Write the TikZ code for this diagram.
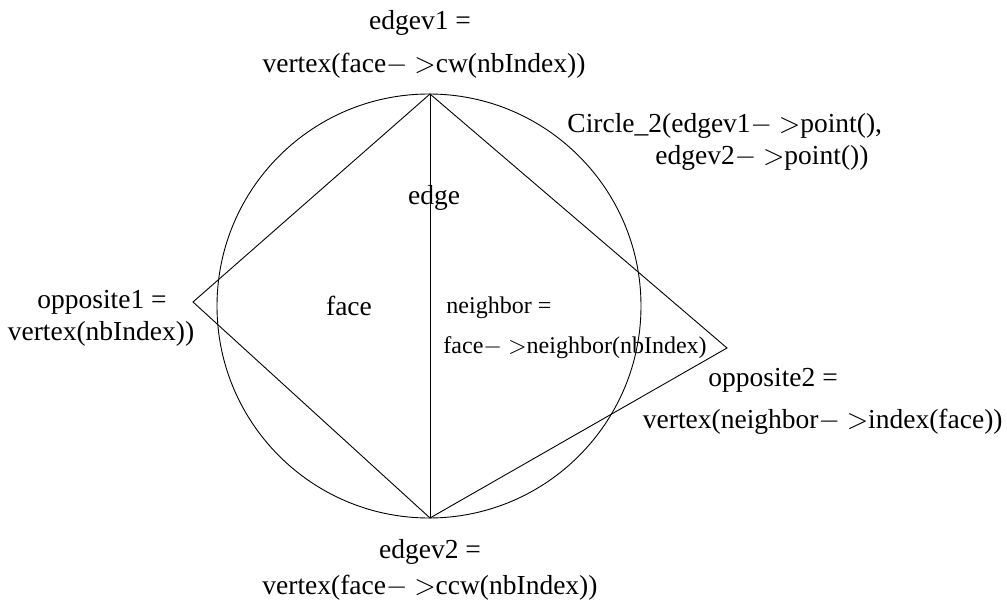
\documentclass[tikz,border=0pt]{standalone}
\usepackage{mathptmx}
\usepackage{fontspec}
\setmainfont{Liberation Serif}
\usetikzlibrary{positioning}

\begin{document}
\begin{tikzpicture}[x=1pt,y=-1pt,line width=0.9pt,
  txt/.style={inner sep=0pt,anchor=base,font=\fontsize{27.5}{32}\selectfont},
  small txt/.style={txt,font=\fontsize{24}{29}\selectfont}]
\def\ptr{$-$ $>$}
\useasboundingbox (0,0) rectangle (1007,604);
% vertices of the two faces
\coordinate (edgev1) at (430,94);
\coordinate (edgev2) at (430,518);
\coordinate (opposite1) at (193,302);
\coordinate (opposite2) at (727,348);
\coordinate (centre) at (429,306);
\draw (centre) circle[radius=212pt];
\draw (edgev1) -- (edgev2);
\draw (edgev1) -- (opposite1) -- (edgev2) -- (opposite2) -- cycle;
% labels
\node[txt] (ev1a) at (420,30) {edgev1 =};
\node[txt] (ev1b) at (424,73) {vertex(face\ptr cw(nbIndex))};
\node[txt,anchor=base west] (circa) at (567,133) {Circle\_2(edgev1\ptr point(),};
\node[txt,anchor=base west] (circb) at (655,165) {edgev2\ptr point())};
\node[txt] (edge) at (434,205) {edge};
\node[txt] (face) at (349,315) {face};
\node[txt] (opp1a) at (102,308) {opposite1 =};
\node[txt] (opp1b) at (101,340) {vertex(nbIndex))};
\node[small txt,anchor=base west] (nba) at (446,313) {neighbor =};
\node[small txt,anchor=base west] (nbb) at (443,353) {face\ptr neighbor(nbIndex)};
\node[txt,anchor=base west] (opp2a) at (708,386) {opposite2 =};
\node[txt,anchor=base east] (opp2b) at (1003,428) {vertex(neighbor\ptr index(face))};
\node[txt] (ev2a) at (430,558) {edgev2 =};
\node[txt] (ev2b) at (430,594) {vertex(face\ptr ccw(nbIndex))};
\end{tikzpicture}
\end{document}
